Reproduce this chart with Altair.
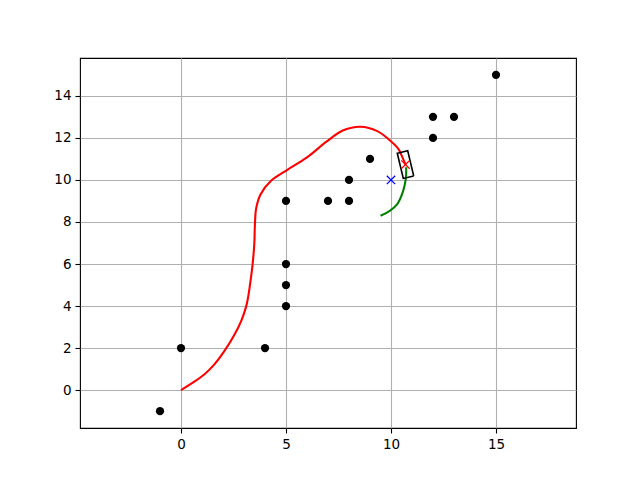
import altair as alt
import numpy as np
import pandas as pd

# obstacles
obs_x = [-1, 0, 4, 5, 5, 5, 5, 7, 8, 8, 9, 12, 12, 13, 15]
obs_y = [-1, 2, 2, 4, 5, 6, 9, 9, 9, 10, 11, 12, 13, 13, 15]

# planned path (red)
path_x = [0.0, 0.49, 1.12, 1.6, 2.07, 2.47, 2.87, 3.11, 3.22, 3.31, 3.4, 3.49, 3.52,
          3.58, 3.78, 4.3, 5.03, 6.0, 6.94, 7.73, 8.55, 9.35, 9.87, 10.35, 10.55, 10.7]
path_y = [0.0, 0.31, 0.76, 1.24, 1.87, 2.5, 3.3, 4.01, 4.57, 5.2, 5.9, 6.95, 7.9,
          8.65, 9.3, 9.97, 10.46, 11.07, 11.83, 12.36, 12.53, 12.32, 11.95, 11.48, 11.06, 10.72]

# predicted arc (green)
arc_x = [10.72, 10.72, 10.65, 10.5, 10.3, 9.94, 9.5]
arc_y = [10.6, 10.2, 9.75, 9.25, 8.85, 8.53, 8.3]

# goal (blue x) and car pose
goal_x, goal_y = [10.0], [10.0]
car_x, car_y, car_yaw_deg, car_len, car_wid = 10.69, 10.73, -76.6, 1.23, 0.51

# rectangle corners from car pose
yaw = np.deg2rad(car_yaw_deg)
u = np.array([np.cos(yaw), np.sin(yaw)])
v = np.array([-np.sin(yaw), np.cos(yaw)])
c = np.array([car_x, car_y])
signs = [(1, 1), (1, -1), (-1, -1), (-1, 1), (1, 1)]
rect = [c + a * car_len / 2 * u + b * car_wid / 2 * v for a, b in signs]
rect_df = pd.DataFrame({"x": [p[0] for p in rect], "y": [p[1] for p in rect],
                        "i": list(range(len(rect)))})

obs_df = pd.DataFrame({"x": obs_x, "y": obs_y})
path_df = pd.DataFrame({"x": path_x, "y": path_y, "i": list(range(len(path_x)))})
arc_df = pd.DataFrame({"x": arc_x, "y": arc_y, "i": list(range(len(arc_x)))})
goal_df = pd.DataFrame({"x": goal_x, "y": goal_y})
car_df = pd.DataFrame({"x": [car_x], "y": [car_y]})

xs = alt.Scale(domain=[-4.81, 18.81], nice=False, zero=False)
ys = alt.Scale(domain=[-1.8, 15.8], nice=False, zero=False)
xax = alt.Axis(values=[0, 5, 10, 15], title=None, grid=True)
yax = alt.Axis(values=list(range(0, 15, 2)), title=None, grid=True)

X = alt.X("x:Q", scale=xs, axis=xax)
Y = alt.Y("y:Q", scale=ys, axis=yax)
Xn = alt.X("x:Q", scale=xs)
Yn = alt.Y("y:Q", scale=ys)

xpath = "M-1,-1L1,1M-1,1L1,-1"

dots = alt.Chart(obs_df).mark_circle(color="black", opacity=1, size=68).encode(x=X, y=Y)
path = alt.Chart(path_df).mark_line(color="red", strokeWidth=2.1, interpolate="catmull-rom").encode(
    x=Xn, y=Yn, order="i:Q")
arc = alt.Chart(arc_df).mark_line(color="green", strokeWidth=2.1, interpolate="catmull-rom").encode(
    x=Xn, y=Yn, order="i:Q")
rect_l = alt.Chart(rect_df).mark_line(color="black", strokeWidth=1.6).encode(
    x=Xn, y=Yn, order="i:Q")
goal = alt.Chart(goal_df).mark_point(shape=xpath, color="blue", size=70, strokeWidth=1.3,
                                     filled=False, opacity=1).encode(x=Xn, y=Yn)
car = alt.Chart(car_df).mark_point(shape=xpath, color="red", size=70, strokeWidth=1.3,
                                   filled=False, opacity=1).encode(x=Xn, y=Yn)

chart = alt.layer(dots, path, arc, goal, rect_l, car).properties(
    width=496, height=370,
    autosize=alt.AutoSizeParams(type="none"),
    padding={"left": 72, "top": 50, "right": 50, "bottom": 40},
    background="white",
).configure_view(
    stroke="black", strokeWidth=1.1
).configure_axis(
    domain=False, gridColor="#b0b0b0", gridWidth=1.1, gridOpacity=1,
    tickColor="black", tickSize=5, tickWidth=1.1,
    labelFont="DejaVu Sans", labelFontSize=13.5, labelColor="black", labelPadding=4,
)

chart.save("out.html", embed_options={"renderer": "svg", "actions": False})
